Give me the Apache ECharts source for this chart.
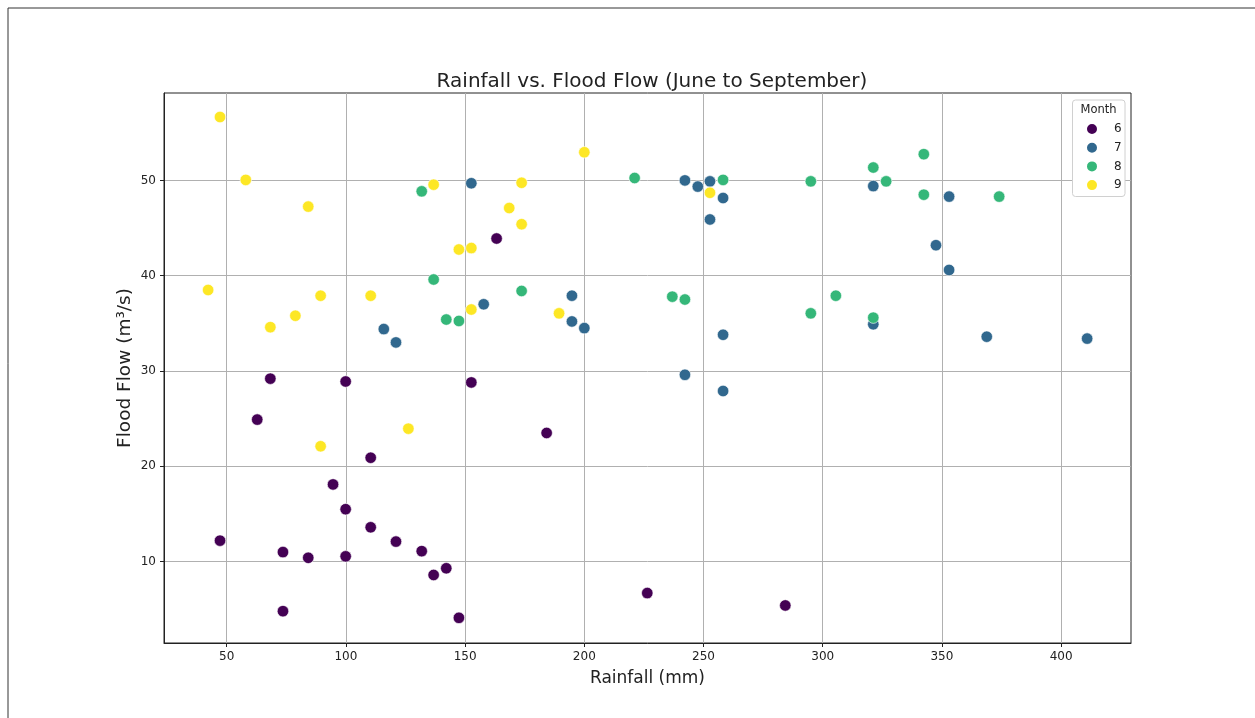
<!DOCTYPE html>
<html>
<head>
<meta charset="utf-8">
<script src="https://cdn.jsdelivr.net/npm/echarts@6/dist/echarts.min.js"></script>
<style>
html,body{margin:0;padding:0;background:#fff;}
#chart{width:1255px;height:718px;}
</style>
</head>
<body>
<div id="chart"></div>
<script>
const months = ['6', '7', '8', '9'];
const colors = ['#440154', '#31688e', '#35b779', '#fde725'];
const xTicks = [50, 100, 150, 200, 250, 300, 350, 400];
const yTicks = [10, 20, 30, 40, 50];

const june = [
  [163.2, 43.9], [68.3, 29.2], [99.9, 28.9], [152.6, 28.8], [62.8, 24.9], [110.4, 20.9],
  [184.2, 23.5], [94.6, 18.1], [99.9, 15.5], [110.4, 13.6], [47.2, 12.2], [121.0, 12.1],
  [73.6, 11.0], [131.8, 11.1], [84.2, 10.4], [99.9, 10.55], [142.1, 9.3], [136.8, 8.6],
  [73.6, 4.8], [147.4, 4.1], [226.4, 6.7], [284.3, 5.4]
];
const july = [
  [152.6, 49.7], [242.2, 50.0], [247.6, 49.35], [252.7, 49.9], [258.2, 48.15], [252.7, 45.9],
  [321.2, 49.4], [353.0, 48.3], [347.5, 43.2], [353.0, 40.6], [115.9, 34.4], [121.0, 33.0],
  [157.8, 37.0], [194.8, 37.9], [194.8, 35.2], [200.0, 34.5], [258.2, 33.8], [242.2, 29.6],
  [258.2, 27.9], [321.2, 34.9], [368.8, 33.6], [410.9, 33.4]
];
const august = [
  [131.8, 48.85], [136.8, 39.6], [221.1, 50.25], [258.2, 50.05], [295.0, 49.9], [342.4, 52.75],
  [321.2, 51.35], [326.6, 49.9], [342.4, 48.5], [374.0, 48.3], [142.1, 35.4], [147.4, 35.25],
  [173.7, 38.4], [236.9, 37.8], [242.2, 37.5], [295.0, 36.05], [305.5, 37.9], [321.2, 35.6]
];
const september = [
  [47.2, 56.65], [58.0, 50.05], [84.2, 47.25], [136.8, 49.55], [147.4, 42.75], [152.6, 42.9],
  [200.0, 52.95], [252.7, 48.7], [173.7, 49.75], [168.5, 47.1], [173.7, 45.4], [42.2, 38.5],
  [68.3, 34.6], [78.8, 35.8], [89.4, 37.9], [110.4, 37.9], [152.6, 36.45], [126.2, 23.95],
  [89.4, 22.1], [189.4, 36.05]
];
const seriesData = [june, july, august, september];

const FONT = 'DejaVu Sans';
const chart = echarts.init(document.getElementById('chart'), null, {renderer: 'canvas'});

const option = {
  backgroundColor: '#fff',
  animation: false,
  title: {
    text: 'Rainfall vs. Flood Flow (June to September)',
    left: 647, top: 67, textAlign: 'center',
    textStyle: {fontFamily: FONT, fontSize: 20, fontWeight: 'normal', color: '#222'}
  },
  grid: {left: 164, top: 93, right: 1255 - 1131, bottom: 718 - 643, show: true, borderColor: '#222', borderWidth: 1, backgroundColor: 'transparent'},
  xAxis: {
    type: 'value', min: 23.7, max: 429.3,
    name: 'Rainfall (mm)', nameLocation: 'middle', nameGap: 27, nameMoveOverlap: false,
    nameTextStyle: {fontFamily: FONT, fontSize: 17, color: '#222'},
    axisLine: {show: true, onZero: false, lineStyle: {color: '#222'}},
    axisTick: {show: true, length: 4, lineStyle: {color: '#222'}, customValues: xTicks},
    axisLabel: {fontFamily: FONT, fontSize: 12, color: '#222', margin: 8, customValues: xTicks},
    splitLine: {show: true, lineStyle: {color: '#b0b0b0', width: 1}},
    interval: 50
  },
  yAxis: {
    type: 'value', min: 1.46, max: 59.17,
    name: 'Flood Flow (m³/s)', nameLocation: 'middle', nameGap: 29, nameMoveOverlap: false,
    nameTextStyle: {fontFamily: FONT, fontSize: 18.5, color: '#222'},
    axisLine: {show: true, onZero: false, lineStyle: {color: '#222'}},
    axisTick: {show: true, length: 4, lineStyle: {color: '#222'}, customValues: yTicks},
    axisLabel: {fontFamily: FONT, fontSize: 12, color: '#222', margin: 8, customValues: yTicks},
    splitLine: {show: true, lineStyle: {color: '#b0b0b0', width: 1}},
    interval: 10
  },
  legend: {
    orient: 'vertical', left: 1080, top: 117, z: 10,
    itemWidth: 12, itemHeight: 12, itemGap: 4.7,
    icon: 'circle',
    data: months,
    textStyle: {fontFamily: FONT, fontSize: 12, color: '#222', padding: [0, 0, 0, 11]}
  },
  graphic: [
    {type: 'rect', shape: {x: 8, y: 8, width: 1260, height: 730}, style: {fill: 'none', stroke: '#333', lineWidth: 1}, silent: true, z: 0},
    {type: 'rect', shape: {x: 1072.5, y: 100, width: 52.5, height: 96.5, r: 3}, style: {fill: '#fff', stroke: '#d0d0d0', lineWidth: 1}, z: 1, silent: true},
    {type: 'text', x: 1098.5, y: 110, style: {text: 'Month', fontFamily: FONT, fontSize: 11.5, fill: '#222', textAlign: 'center', textVerticalAlign: 'middle'}, z: 2, silent: true}
  ],
  series: months.map((m, i) => ({
    name: m, type: 'scatter', data: seriesData[i], symbolSize: 11.5,
    itemStyle: {color: colors[i], borderColor: '#fff', borderWidth: 0.6, opacity: 1},
    z: 3
  }))
};
chart.setOption(option);
</script>
</body>
</html>
